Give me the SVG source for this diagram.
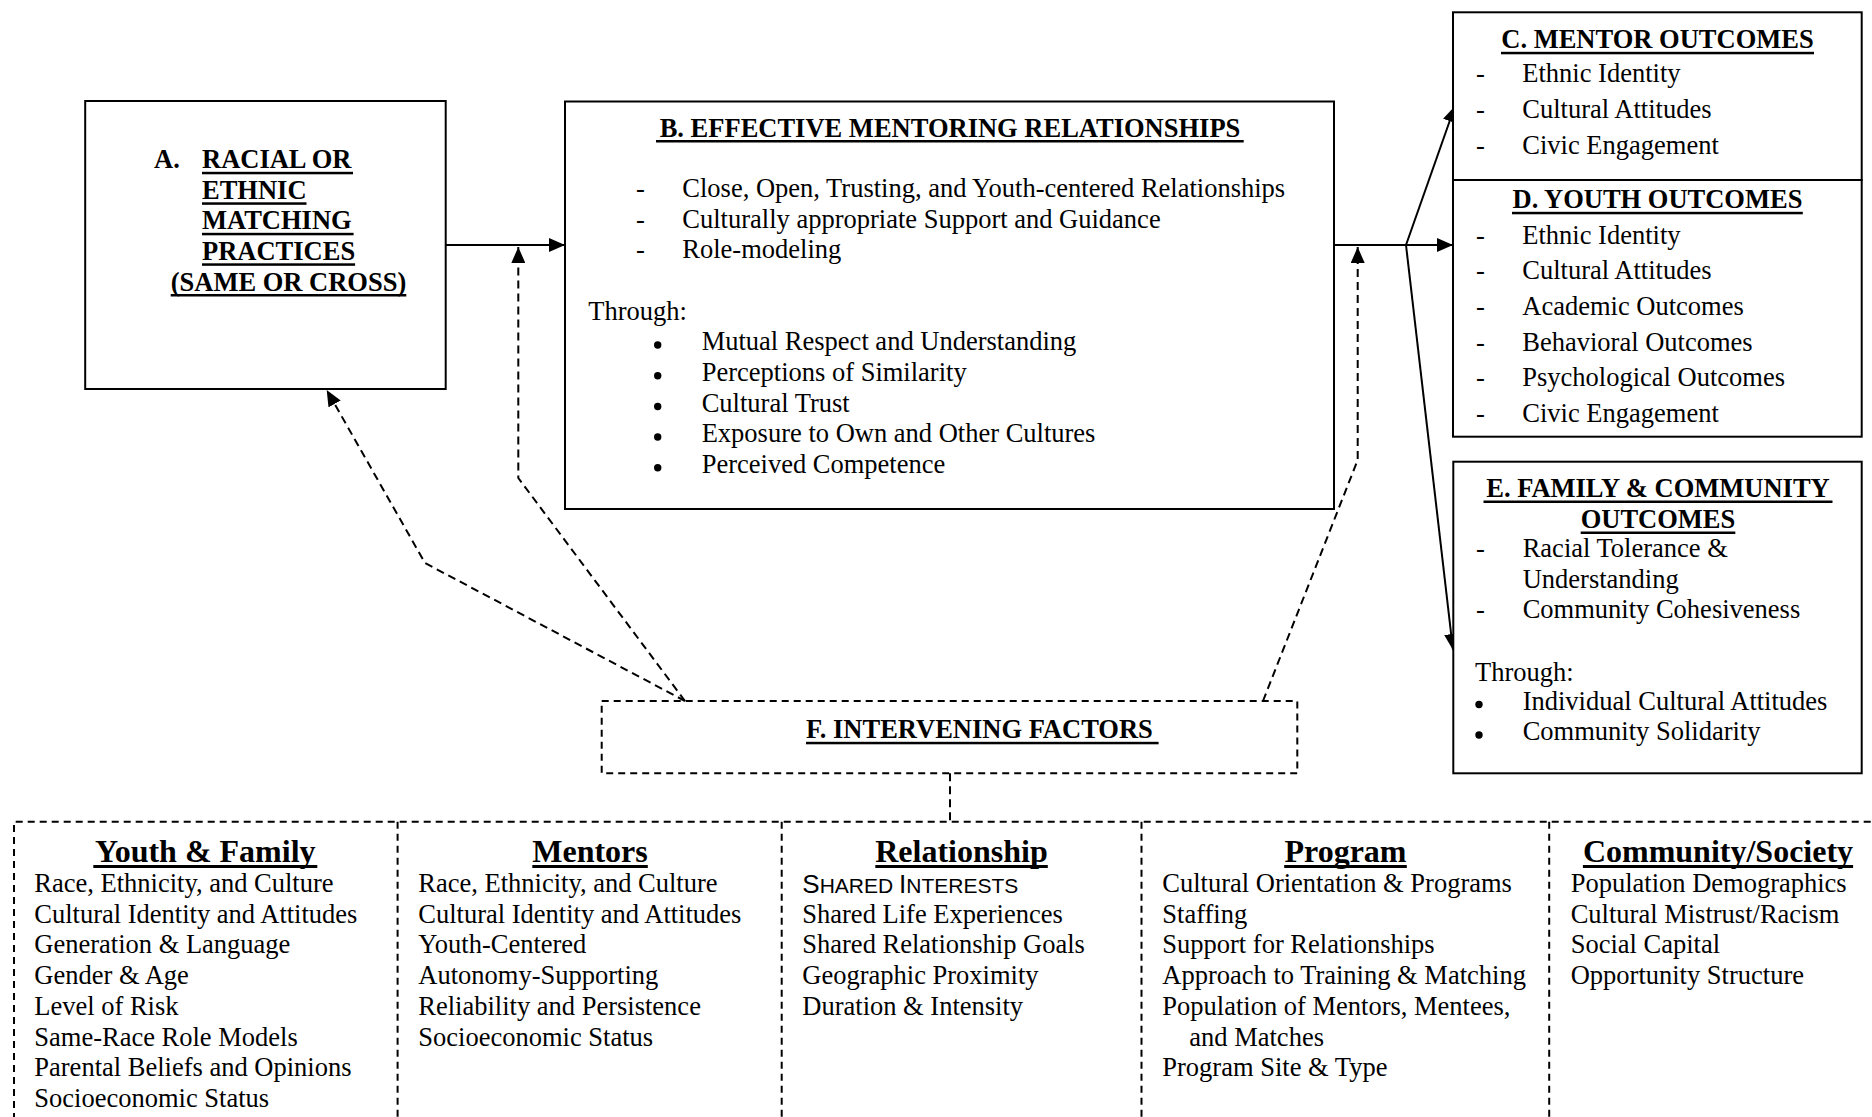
<svg xmlns="http://www.w3.org/2000/svg" width="1872" height="1117" viewBox="0 0 1872 1117">
<style>
text{font-family:"Liberation Serif","Times New Roman",serif;font-size:26.5px;fill:#000}
.b{font-weight:bold}
.h{font-weight:bold;font-size:32px;text-anchor:middle}
.c{text-anchor:middle}
.box{fill:#fff;stroke:#000;stroke-width:2}
.dbox{fill:none;stroke:#000;stroke-width:2;stroke-dasharray:7 5}
.ln{fill:none;stroke:#000;stroke-width:2}
.dl{fill:none;stroke:#000;stroke-width:2;stroke-dasharray:8 5}
.u{fill:#000}
.sc{font-family:"Liberation Sans",Arial,sans-serif}
</style>
<defs>
<marker id="ah" viewBox="0 0 16 14" refX="16" refY="7" markerWidth="16" markerHeight="14" markerUnits="userSpaceOnUse" orient="auto">
<path d="M0,0 L16,7 L0,14 z" fill="#000"/>
</marker>
</defs>
<rect width="1872" height="1117" fill="#fff"/>

<g id="connectors">
<line class="ln" x1="445.7" y1="245" x2="565" y2="245" marker-end="url(#ah)"/>
<line class="ln" x1="1334" y1="245" x2="1453" y2="245" marker-end="url(#ah)"/>
<line class="ln" x1="1406" y1="245" x2="1455" y2="106" marker-end="url(#ah)"/>
<line class="ln" x1="1406" y1="245" x2="1453" y2="650" marker-end="url(#ah)"/>
<path class="dl" d="M685,701 L425,563 L326.7,390" marker-end="url(#ah)"/>
<path class="dl" d="M685,701 L518.3,478 L518.3,247" marker-end="url(#ah)"/>
<path class="dl" d="M1263,701 L1357.7,460 L1357.7,247" marker-end="url(#ah)"/>
<line class="dl" x1="950" y1="773.3" x2="950" y2="821.7"/>
</g>

<g id="nodeA">
<rect class="box" x="85.2" y="101" width="360.5" height="288"/>
<text class="b" x="154" y="168.3">A.</text>
<text class="b" x="202" y="168.3">RACIAL OR</text>
<rect class="u" x="202" y="171.8" width="151" height="2.5"/>
<text class="b" x="202" y="198.8">ETHNIC</text>
<rect class="u" x="202" y="202.3" width="104.5" height="2.5"/>
<text class="b" x="202" y="229.3">MATCHING</text>
<rect class="u" x="202" y="232.8" width="151.6" height="2.5"/>
<text class="b" x="202" y="259.8">PRACTICES</text>
<rect class="u" x="202" y="263.3" width="153.1" height="2.5"/>
<text class="b" x="170.7" y="290.5">(SAME OR CROSS)</text>
<rect class="u" x="170.7" y="294" width="235.6" height="2.5"/>
</g>

<g id="nodeB">
<rect class="box" x="565" y="101.5" width="769" height="407.5"/>
<text class="b c" x="950" y="136.7">B. EFFECTIVE MENTORING RELATIONSHIPS</text>
<rect class="u" x="656" y="140" width="587.7" height="2.5"/>
<text x="636" y="197.3">-</text><text x="682.3" y="197.3">Close, Open, Trusting, and Youth-centered Relationships</text>
<text x="636" y="227.8">-</text><text x="682.3" y="227.8">Culturally appropriate Support and Guidance</text>
<text x="636" y="258.3">-</text><text x="682.3" y="258.3">Role-modeling</text>
<text x="588.3" y="320">Through:</text>
<circle cx="657.7" cy="345" r="3.7"/><text x="701.7" y="350">Mutual Respect and Understanding</text>
<circle cx="657.7" cy="375.7" r="3.7"/><text x="701.7" y="380.7">Perceptions of Similarity</text>
<circle cx="657.7" cy="406.5" r="3.7"/><text x="701.7" y="411.5">Cultural Trust</text>
<circle cx="657.7" cy="437" r="3.7"/><text x="701.7" y="442">Exposure to Own and Other Cultures</text>
<circle cx="657.7" cy="467.7" r="3.7"/><text x="701.7" y="472.7">Perceived Competence</text>
</g>

<g id="nodeC">
<rect class="box" x="1453" y="12.3" width="408.7" height="167.7"/>
<text class="b c" x="1657.5" y="48.3">C. MENTOR OUTCOMES</text>
<rect class="u" x="1501" y="51.8" width="313" height="2.5"/>
<text x="1476" y="82.3">-</text><text x="1522.3" y="82.3">Ethnic Identity</text>
<text x="1476" y="118">-</text><text x="1522.3" y="118">Cultural Attitudes</text>
<text x="1476" y="153.5">-</text><text x="1522.3" y="153.5">Civic Engagement</text>
</g>

<g id="nodeD">
<rect class="box" x="1453" y="180" width="408.7" height="256.7"/>
<text class="b c" x="1657.5" y="208.3">D. YOUTH OUTCOMES</text>
<rect class="u" x="1512" y="211.8" width="290.8" height="2.5"/>
<text x="1476" y="243.5">-</text><text x="1522.3" y="243.5">Ethnic Identity</text>
<text x="1476" y="279.2">-</text><text x="1522.3" y="279.2">Cultural Attitudes</text>
<text x="1476" y="314.9">-</text><text x="1522.3" y="314.9">Academic Outcomes</text>
<text x="1476" y="350.6">-</text><text x="1522.3" y="350.6">Behavioral Outcomes</text>
<text x="1476" y="386.3">-</text><text x="1522.3" y="386.3">Psychological Outcomes</text>
<text x="1476" y="422">-</text><text x="1522.3" y="422">Civic Engagement</text>
</g>

<g id="nodeE">
<rect class="box" x="1453.3" y="461.7" width="408.4" height="311.6"/>
<text class="b c" x="1658" y="497">E. FAMILY &amp; COMMUNITY</text>
<rect class="u" x="1483.5" y="500.5" width="349" height="2.5"/>
<text class="b c" x="1658" y="528">OUTCOMES</text>
<rect class="u" x="1580.7" y="531.5" width="154.6" height="2.5"/>
<text x="1476" y="557.3">-</text><text x="1522.7" y="557.3">Racial Tolerance &amp;</text>
<text x="1522.7" y="587.7">Understanding</text>
<text x="1476" y="618.3">-</text><text x="1522.7" y="618.3">Community Cohesiveness</text>
<text x="1475" y="680.5">Through:</text>
<circle cx="1479" cy="704.5" r="3.7"/><text x="1522.7" y="709.5">Individual Cultural Attitudes</text>
<circle cx="1479" cy="735" r="3.7"/><text x="1522.7" y="740">Community Solidarity</text>
</g>

<g id="nodeF">
<rect class="dbox" x="601.7" y="701" width="695.6" height="72.3"/>
<text class="b" x="806" y="738.3">F. INTERVENING FACTORS</text>
<rect class="u" x="806" y="741.8" width="352.6" height="2.5"/>
</g>

<g id="factors">
<path class="dbox" d="M14,1120 L14,821.7 L1875,821.7"/>
<line class="dbox" x1="397.6" y1="821.7" x2="397.6" y2="1120"/>
<line class="dbox" x1="781.7" y1="821.7" x2="781.7" y2="1120"/>
<line class="dbox" x1="1141.5" y1="821.7" x2="1141.5" y2="1120"/>
<line class="dbox" x1="1549.2" y1="821.7" x2="1549.2" y2="1120"/>
</g>

<g id="youthFamily">
<text class="h" x="205.3" y="861.7">Youth &amp; Family</text>
<rect class="u" x="93.3" y="865" width="224" height="3"/>
<text x="34.3" y="891.7">Race, Ethnicity, and Culture</text>
<text x="34.3" y="922.5">Cultural Identity and Attitudes</text>
<text x="34.3" y="953.3">Generation &amp; Language</text>
<text x="34.3" y="984">Gender &amp; Age</text>
<text x="34.3" y="1014.7">Level of Risk</text>
<text x="34.3" y="1045.5">Same-Race Role Models</text>
<text x="34.3" y="1076.2">Parental Beliefs and Opinions</text>
<text x="34.3" y="1107">Socioeconomic Status</text>
</g>

<g id="mentors">
<text class="h" x="590" y="861.7">Mentors</text>
<rect class="u" x="532.3" y="865" width="115.5" height="3"/>
<text x="418.3" y="891.7">Race, Ethnicity, and Culture</text>
<text x="418.3" y="922.5">Cultural Identity and Attitudes</text>
<text x="418.3" y="953.3">Youth-Centered</text>
<text x="418.3" y="984">Autonomy-Supporting</text>
<text x="418.3" y="1014.7">Reliability and Persistence</text>
<text x="418.3" y="1045.5">Socioeconomic Status</text>
</g>

<g id="relationship">
<text class="h" x="961.5" y="861.7">Relationship</text>
<rect class="u" x="875.3" y="865" width="172.5" height="3"/>
<text class="sc" x="802.3" y="892.5"><tspan font-size="26">S</tspan><tspan font-size="21">HARED </tspan><tspan font-size="26">I</tspan><tspan font-size="21">NTERESTS</tspan></text>
<text x="802.3" y="922.5">Shared Life Experiences</text>
<text x="802.3" y="953.3">Shared Relationship Goals</text>
<text x="802.3" y="984">Geographic Proximity</text>
<text x="802.3" y="1014.7">Duration &amp; Intensity</text>
</g>

<g id="program">
<text class="h" x="1345.5" y="861.7">Program</text>
<rect class="u" x="1284.2" y="865" width="122.6" height="3"/>
<text x="1162.3" y="891.7">Cultural Orientation &amp; Programs</text>
<text x="1162.3" y="922.5">Staffing</text>
<text x="1162.3" y="953.3">Support for Relationships</text>
<text x="1162.3" y="984">Approach to Training &amp; Matching</text>
<text x="1162.3" y="1014.7">Population of Mentors, Mentees,</text>
<text x="1189.3" y="1045.5">and Matches</text>
<text x="1162.3" y="1076.2">Program Site &amp; Type</text>
</g>

<g id="community">
<text class="h" x="1718" y="861.7">Community/Society</text>
<rect class="u" x="1582.9" y="865" width="270.2" height="3"/>
<text x="1570.7" y="891.7">Population Demographics</text>
<text x="1570.7" y="922.5">Cultural Mistrust/Racism</text>
<text x="1570.7" y="953.3">Social Capital</text>
<text x="1570.7" y="984">Opportunity Structure</text>
</g>
</svg>
